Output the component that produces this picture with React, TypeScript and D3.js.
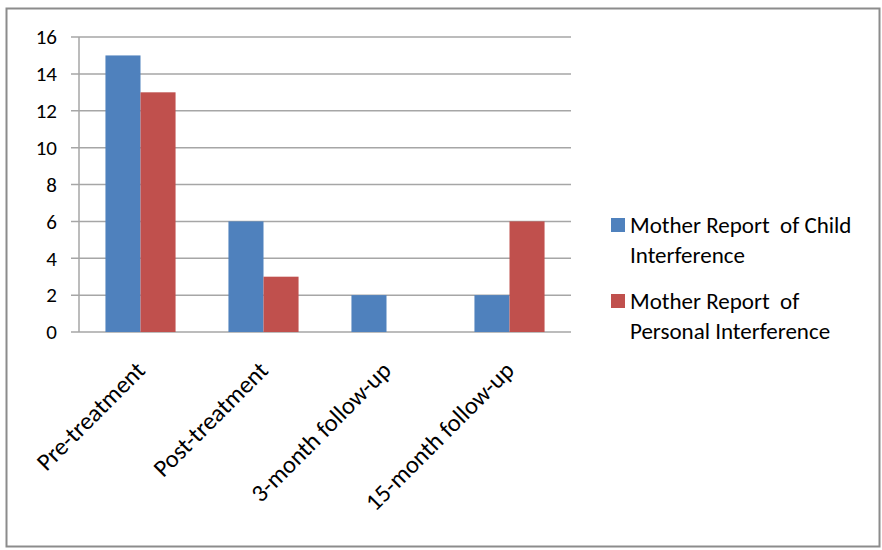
import React from "react";
import * as d3 from "d3";

const categories = ["Pre-treatment", "Post-treatment", "3-month follow-up", "15-month follow-up"];
const childInterference = [15, 6, 2, 2];
const personalInterference = [13, 3, 0, 6];
const seriesNames = [
  ["Mother Report  of Child", "Interference"],
  ["Mother Report  of", "Personal Interference"],
];
const yTicks = [0, 2, 4, 6, 8, 10, 12, 14, 16];
const colors = ["#4F81BD", "#C0504D"];

export default function App() {
  const W = 882, H = 550;
  const left = 79, right = 571, top = 37, bottom = 332;
  const x = d3.scaleBand<string>().domain(categories).range([left, right]).paddingInner(0.43).paddingOuter(0.215);
  const y = d3.scaleLinear().domain([0, 16]).range([bottom, top]);
  const xs = d3.scaleBand<number>().domain([0, 1]).range([0, x.bandwidth()]);
  const series = [childInterference, personalInterference];
  const font = "Carlito, Calibri, 'Open Sans', sans-serif";
  return (
    <svg width={W} height={H} style={{ position: "absolute", left: 0, top: 0, fontFamily: font }}>
      <rect x={0} y={0} width={W} height={H} fill="#fff" />
      <rect x={6.5} y={8.5} width={873} height={538} fill="#fff" stroke="#8c8c8c" strokeWidth={2} />
      {yTicks.map((t) => (
        <g key={t}>
          <line x1={left - 8} x2={right} y1={y(t)} y2={y(t)} stroke="#a6a6a6" strokeWidth={1.5} />
          <text x={57} y={y(t)} dy="0.35em" textAnchor="end" fontSize={21} fill="#000">{t}</text>
        </g>
      ))}
      <line x1={left} x2={left} y1={top} y2={bottom} stroke="#a6a6a6" strokeWidth={1.5} />
      {series.map((vals, si) =>
        vals.map((v, i) =>
          v > 0 ? (
            <rect
              key={`${si}-${i}`}
              x={(x(categories[i]) as number) + (xs(si) as number)}
              y={y(v)}
              width={xs.bandwidth()}
              height={y(0) - y(v)}
              fill={colors[si]}
            />
          ) : null
        )
      )}
      {categories.map((c) => {
        const cx = (x(c) as number) + x.bandwidth() / 2 + 6;
        return (
          <text
            key={c}
            transform={`translate(${cx},${bottom + 40}) rotate(-45)`}
            textAnchor="end"
            fontSize={24.5}
            fill="#000"
          >
            {c}
          </text>
        );
      })}
      {seriesNames.map((lines, si) => (
        <g key={si}>
          <rect x={611} y={218 + si * 76} width={14} height={14} fill={colors[si]} />
          {lines.map((l, li) => (
            <text key={li} x={630} y={233 + si * 76 + li * 30} fontSize={23} fill="#000" style={{ whiteSpace: "pre" }}>
              {l}
            </text>
          ))}
        </g>
      ))}
    </svg>
  );
}
